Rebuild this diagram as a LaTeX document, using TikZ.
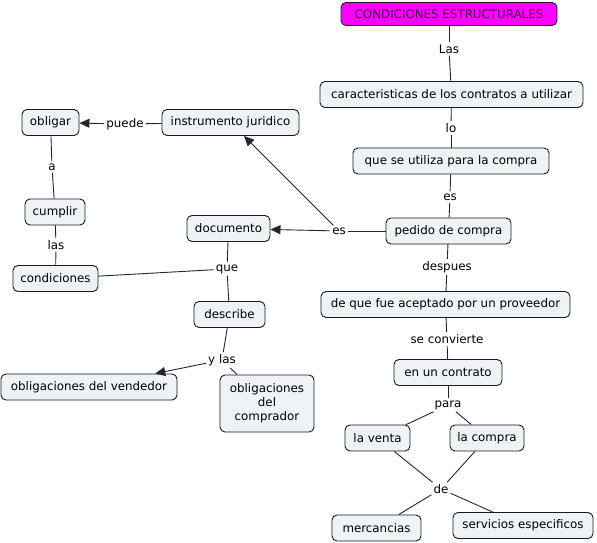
\documentclass[tikz,border=0pt]{standalone}
\usepackage{fontspec}
\setmainfont{DejaVu Sans}
\usetikzlibrary{arrows.meta}
\definecolor{boxfill}{HTML}{EEF3F5}
\definecolor{boxline}{HTML}{1A1A1A}
\definecolor{linkline}{HTML}{262626}
\definecolor{topfill}{HTML}{FF00FF}
\definecolor{toptext}{HTML}{3C0046}
\begin{document}
\begin{tikzpicture}[x=1pt,y=-1pt,
  font=\fontsize{11.85}{14}\selectfont,
  concept/.style={draw=boxline, line width=0.9pt, fill=boxfill, rounded corners=5pt,
    minimum height=26pt, inner xsep=2pt, inner ysep=2pt, text=black},
  topconcept/.style={concept, fill=topfill, text=toptext, minimum height=23pt},
  lnk/.style={inner sep=2pt, text=black},
  conn/.style={draw=linkline, line width=0.9pt},
  arr/.style={conn, -{Triangle[length=10pt,width=9pt]}}]
\useasboundingbox (0,0) rectangle (597,543);

% concepts
\node[topconcept, minimum width=216pt] (cond) at (449,14) {CONDICIONES ESTRUCTURALES};
\node[concept, minimum width=263pt] (carac) at (451.5,94.5) {caracteristicas de los contratos a utilizar};
\node[concept, minimum width=196pt] (utiliza) at (451,161) {que se utiliza para la compra};
\node[concept, minimum width=125pt] (pedido) at (448.5,231) {pedido de compra};
\node[concept, minimum width=137pt] (instr) at (230.5,122.5) {instrumento juridico};
\node[concept, minimum width=83pt] (docu) at (228.5,228.5) {documento};
\node[concept, minimum width=57pt] (obligar) at (50.5,122.5) {obligar};
\node[concept, minimum width=60pt] (cumplir) at (55,212) {cumplir};
\node[concept, minimum width=85pt] (condi) at (55.5,278.5) {condiciones};
\node[concept, minimum width=71pt] (describe) at (229.5,314.5) {describe};
\node[concept, minimum width=176pt] (vend) at (89,387) {obligaciones del vendedor};
\node[concept, minimum width=94pt, minimum height=57pt, align=center] (comp) at (267,403.5) {obligaciones\\del\\comprador};
\node[concept, minimum width=249pt] (acept) at (445.5,304.5) {de que fue aceptado por un proveedor};
\node[concept, minimum width=108pt] (contrato) at (448,372.5) {en un contrato};
\node[concept, minimum width=65pt] (venta) at (377.5,438) {la venta};
\node[concept, minimum width=74pt] (compra) at (487,438) {la compra};
\node[concept, minimum width=89pt] (merc) at (376.5,528) {mercancias};
\node[concept, minimum width=140pt] (serv) at (523,525.5) {servicios especificos};

% linking phrases
\node[lnk] (las1) at (449,49) {Las};
\node[lnk] (lo) at (451,128) {lo};
\node[lnk] (es1) at (450,197) {es};
\node[lnk] (es2) at (339,231) {es};
\node[lnk] (puede) at (125,124) {puede};
\node[lnk] (a) at (52,167) {a};
\node[lnk] (las2) at (56,245) {las};
\node[lnk] (que) at (227,269) {que};
\node[lnk] (ylas) at (222,360) {y las};
\node[lnk] (despues) at (447,267) {despues};
\node[lnk] (secon) at (447,339) {se convierte};
\node[lnk] (para) at (448,405) {para};
\node[lnk] (de) at (441,489) {de};

% connectors
\draw[conn] (cond) -- (las1);
\draw[conn] (las1) -- (carac);
\draw[conn] (carac) -- (lo);
\draw[conn] (lo) -- (utiliza);
\draw[conn] (utiliza) -- (es1);
\draw[conn] (es1) -- (pedido);
\draw[conn] (pedido) -- (es2);
\draw[arr] (es2) -- (instr);
\draw[arr] (es2) -- (docu);
\draw[conn] (instr) -- (puede);
\draw[arr] (puede) -- (obligar);
\draw[conn] (obligar) -- (a);
\draw[conn] (a) -- (cumplir);
\draw[conn] (cumplir) -- (las2);
\draw[conn] (las2) -- (condi);
\draw[conn] (docu) -- (que);
\draw[conn] (que) -- (condi);
\draw[conn] (que) -- (describe);
\draw[conn] (describe) -- (ylas);
\draw[arr] (ylas) -- (vend);
\draw[conn] (ylas) -- (comp);
\draw[conn] (pedido) -- (despues);
\draw[conn] (despues) -- (acept);
\draw[conn] (acept) -- (secon);
\draw[conn] (secon) -- (contrato);
\draw[conn] (contrato) -- (para);
\draw[conn] (para) -- (venta);
\draw[conn] (para) -- (compra);
\draw[conn] (venta) -- (de);
\draw[conn] (compra) -- (de);
\draw[conn] (de) -- (merc);
\draw[conn] (de) -- (serv);
\end{tikzpicture}
\end{document}
